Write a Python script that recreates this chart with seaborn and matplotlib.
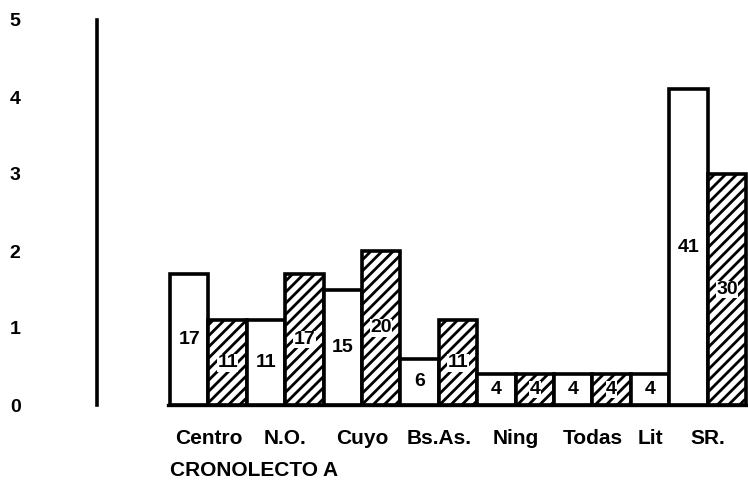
import matplotlib
matplotlib.use("Agg")
import matplotlib.pyplot as plt
import seaborn as sns
import pandas as pd

# ---- data (percent values) ----
groups = ["Centro", "N.O.", "Cuyo", "Bs.As.", "Ning", "Todas", "Lit", "SR."]
white_values = [17, 11, 15, 6, 4, 4, 4, 41]
hatched_values = [11, 17, 20, 11, 4, 4, None, 30]
y_tick_values = [0, 10, 20, 30, 40, 50]
y_tick_labels = ["0", "1", "2", "3", "4", "5"]
title_text = "CRONOLECTO A"

# ---- build one row per bar ----
rows = []
for g, w, h in zip(groups, white_values, hatched_values):
    rows.append({"bar": f"{g}-w", "group": g, "kind": "white", "value": w})
    if h is not None:
        rows.append({"bar": f"{g}-h", "group": g, "kind": "hatched", "value": h})
df = pd.DataFrame(rows)

sns.set_style("white")
plt.rcParams["font.family"] = ["Liberation Sans", "DejaVu Sans"]
plt.rcParams["hatch.color"] = "black"
plt.rcParams["hatch.linewidth"] = 2.0
for key in ["text.color", "xtick.color", "ytick.color", "axes.labelcolor"]:
    plt.rcParams[key] = "black"

fig = plt.figure(figsize=(7.48, 4.87), dpi=100)
ax = fig.add_axes([97 / 748, 82 / 487, 651 / 748, 385 / 487])

sns.barplot(data=df, x="bar", y="value", order=list(df["bar"]), color="white",
            saturation=1, edgecolor="black", linewidth=2.6, width=1.0, ax=ax)

bars = ax.containers[0]
for patch, kind in zip(bars, df["kind"]):
    if kind == "hatched":
        patch.set_hatch("///")

texts = ax.bar_label(bars, labels=[str(v) for v in df["value"]], label_type="center",
                     fontsize=14, fontweight="bold", color="black")
for t, kind in zip(texts, df["kind"]):
    if kind == "hatched":
        t.set_bbox(dict(facecolor="white", edgecolor="none", pad=0.3))

# group label positions: mean of bar indices in each group
idx = pd.Series(range(len(df)), index=df.index)
centers = [idx[df["group"] == g].mean() for g in groups]
ax.set_xticks(centers)
ax.set_xticklabels(groups, fontsize=15, fontweight="bold")
ax.tick_params(axis="x", length=0, pad=17)

ax.set_yticks(y_tick_values)
ax.set_yticklabels(y_tick_labels, fontsize=14, fontweight="bold")
ax.tick_params(axis="y", length=0, pad=55)

ax.set_xlim(-2.40, len(df) - 0.45)
ax.set_ylim(0, 50)
ax.set_xlabel("")
ax.set_ylabel("")

for side in ["top", "right"]:
    ax.spines[side].set_visible(False)
ax.spines["left"].set_linewidth(2.6)
ax.spines["left"].set_color("black")
ax.spines["bottom"].set_linewidth(2.4)
ax.spines["bottom"].set_color("black")
ax.spines["bottom"].set_bounds(-0.55, len(df) - 0.45)

fig.text(170 / 748, 1 - 470 / 487, title_text, fontsize=15, fontweight="bold",
         ha="left", va="center")

fig.savefig("out.png", dpi=100, facecolor="white")
